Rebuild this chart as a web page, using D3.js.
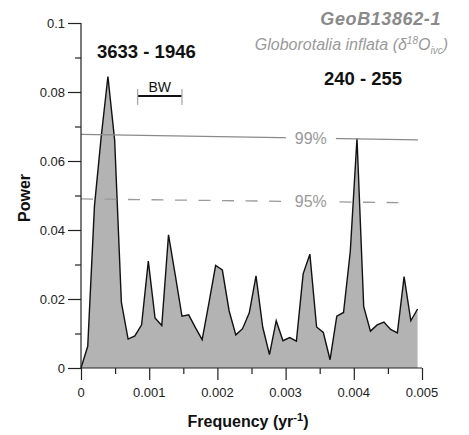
<!DOCTYPE html>
<html><head><meta charset="utf-8">
<script src="https://cdn.jsdelivr.net/npm/d3@7"></script>
<style>body{margin:0;background:#fff}svg{display:block}text{font-family:"Liberation Sans",Arial,sans-serif}</style>
</head><body>
<svg id="c" width="469" height="435"></svg>
<script>
// ---- data ----
const frequency = [0,0.0000987,0.0001974,0.0002961,0.0003948,0.0004935,0.0005922,0.0006909,0.0007896,0.0008883,
  0.000987,0.0010857,0.0011844,0.0012831,0.0013818,0.0014805,0.0015792,0.0016779,0.0017766,0.0018753,
  0.001974,0.0020727,0.0021714,0.0022701,0.0023688,0.0024675,0.0025662,0.0026649,0.0027636,0.0028623,
  0.002961,0.0030597,0.0031584,0.0032571,0.0033558,0.0034545,0.0035532,0.0036519,0.0037506,0.0038493,
  0.003948,0.0040467,0.0041454,0.0042441,0.0043428,0.0044415,0.0045402,0.0046389,0.0047376,0.0048363,0.004935];
const power = [0,0.0063,0.047,0.067,0.0845,0.066,0.019,0.0084,0.0093,0.0125,
  0.031,0.0145,0.0123,0.0386,0.027,0.015,0.0154,0.0117,0.0082,0.0188,
  0.0297,0.0284,0.0166,0.0096,0.0114,0.0160,0.0267,0.0118,0.0039,0.0137,
  0.0079,0.0088,0.0078,0.0273,0.033,0.0119,0.0103,0.0024,0.015,0.0161,
  0.0337,0.0666,0.0178,0.0107,0.0125,0.0133,0.0112,0.0102,0.0265,0.0137,0.0171];
const conf99Freq = [0, 0.00494];
const conf99 = [0.0677, 0.0661];
const conf95Freq = [0, 0.00477];
const conf95 = [0.0490, 0.0479];
const xTicks = [0,0.001,0.002,0.003,0.004,0.005];
const xTickLabels = ["0","0.001","0.002","0.003","0.004","0.005"];
const yTicks = [0,0.02,0.04,0.06,0.08,0.1];
const yTickLabels = ["0","0.02","0.04","0.06","0.08","0.1"];
const bandwidth = [0.00083, 0.00148];

// ---- chart ----
const svg = d3.select("#c");
const x = d3.scaleLinear().domain([0,0.005]).range([81,422]);
const y = d3.scaleLinear().domain([0,0.1]).range([368,23]);
const pts = frequency.map((f,i)=>[f,power[i]]);

svg.append("path").datum(pts)
  .attr("d", d3.area().x(d=>x(d[0])).y0(y(0)).y1(d=>y(d[1])))
  .attr("fill","#b3b3b3");
svg.append("path").datum(pts)
  .attr("d", d3.line().x(d=>x(d[0])).y(d=>y(d[1])))
  .attr("fill","none").attr("stroke","#111").attr("stroke-width",1.4).attr("stroke-linejoin","miter");

// confidence lines
svg.append("path").datum(conf99Freq.map((f,i)=>[f,conf99[i]]))
  .attr("d", d3.line().x(d=>x(d[0])).y(d=>y(d[1])))
  .attr("stroke","#8a8a8a").attr("stroke-width",1.3).attr("fill","none");
svg.append("path").datum(conf95Freq.map((f,i)=>[f,conf95[i]]))
  .attr("d", d3.line().x(d=>x(d[0])).y(d=>y(d[1])))
  .attr("stroke","#9a9a9a").attr("stroke-width",1.3).attr("fill","none")
  .attr("stroke-dasharray","12,11.5");

function confLabel(txt, f, v){
  const g = svg.append("g");
  const cx = x(f), cy = y(v);
  g.append("rect").attr("x",cx-25).attr("y",cy-8).attr("width",50).attr("height",16).attr("fill","#fff");
  g.append("text").attr("x",cx).attr("y",cy+6).attr("text-anchor","middle")
   .attr("font-size",16).attr("fill","#999").text(txt);
}
confLabel("99%", 0.00337, 0.0668);
confLabel("95%", 0.00337, 0.0483);

// axes
const xAxis = svg.append("g").attr("transform","translate(0,368)");
xAxis.call(d3.axisBottom(x).tickValues(d3.range(0,0.00501,0.0005)).tickSize(6).tickFormat(""));
xAxis.call(g=>g.selectAll(".tick").filter((d,i)=>i%2===0).select("line").attr("y2",12));
xAxis.select(".domain").attr("d","M81,0H422");
xAxis.selectAll("line,.domain").attr("stroke","#222").attr("stroke-width",1.2);
xTicks.forEach((t,i)=>{
  svg.append("text").attr("x",x(t)).attr("y",397).attr("text-anchor","middle")
    .attr("font-size",13).attr("fill","#222").text(xTickLabels[i]);
});

const yAxis = svg.append("g").attr("transform","translate(81,0)");
yAxis.call(d3.axisLeft(y).tickValues(d3.range(0,0.1001,0.01)).tickSize(6).tickFormat(""));
yAxis.call(g=>g.selectAll(".tick").filter((d,i)=>i%2===0).select("line").attr("x2",-13));
yAxis.select(".domain").attr("d","M0,368V23");
yAxis.selectAll("line,.domain").attr("stroke","#222").attr("stroke-width",1.2);
yTicks.forEach((t,i)=>{
  svg.append("text").attr("x",65).attr("y",y(t)+4.5).attr("text-anchor","end")
    .attr("font-size",13).attr("fill","#222").text(yTickLabels[i]);
});

// axis titles
svg.append("text").attr("transform","translate(30,198) rotate(-90)").attr("text-anchor","middle")
  .attr("font-size",16).attr("font-weight","bold").attr("fill","#111").text("Power");
const xt = svg.append("text").attr("x",248).attr("y",427).attr("text-anchor","middle")
  .attr("font-size",16).attr("font-weight","bold").attr("fill","#111");
xt.append("tspan").text("Frequency (yr");
xt.append("tspan").attr("dy",-6).attr("font-size",11).text("-1");
xt.append("tspan").attr("dy",6).text(")");

// peak labels
svg.append("text").attr("x",97).attr("y",58).attr("font-size",18.5).attr("font-weight","bold")
  .attr("fill","#111").text("3633 - 1946");
svg.append("text").attr("x",363).attr("y",85).attr("text-anchor","middle").attr("font-size",18.5).attr("font-weight","bold")
  .attr("fill","#111").text("240 - 255");

// bandwidth bar
svg.append("line").attr("x1",x(bandwidth[0])).attr("x2",x(bandwidth[1])).attr("y1",96).attr("y2",96)
  .attr("stroke","#111").attr("stroke-width",2.2);
bandwidth.forEach(b=>svg.append("line").attr("x1",x(b)).attr("x2",x(b)).attr("y1",89).attr("y2",105)
  .attr("stroke","#aaa").attr("stroke-width",1.3));
svg.append("text").attr("x",(x(bandwidth[0])+x(bandwidth[1]))/2).attr("y",92).attr("text-anchor","middle")
  .attr("font-size",14).attr("fill","#111").text("BW");

// title
svg.append("text").attr("x",441).attr("y",25).attr("text-anchor","end").attr("font-size",18)
  .attr("font-weight","bold").attr("font-style","italic").attr("letter-spacing",0.6)
  .attr("fill","#8a8a8a").text("GeoB13862-1");
const st = svg.append("text").attr("x",448).attr("y",50).attr("text-anchor","end").attr("font-size",16)
  .attr("font-style","italic").attr("fill","#999");
st.append("tspan").text("Globorotalia inflata (δ");
st.append("tspan").attr("dy",-6).attr("font-size",10).text("18");
st.append("tspan").attr("dy",6).text("O");
st.append("tspan").attr("dy",4).attr("font-size",10).text("ivc");
st.append("tspan").attr("dy",-4).text(")");
</script>
</body></html>
